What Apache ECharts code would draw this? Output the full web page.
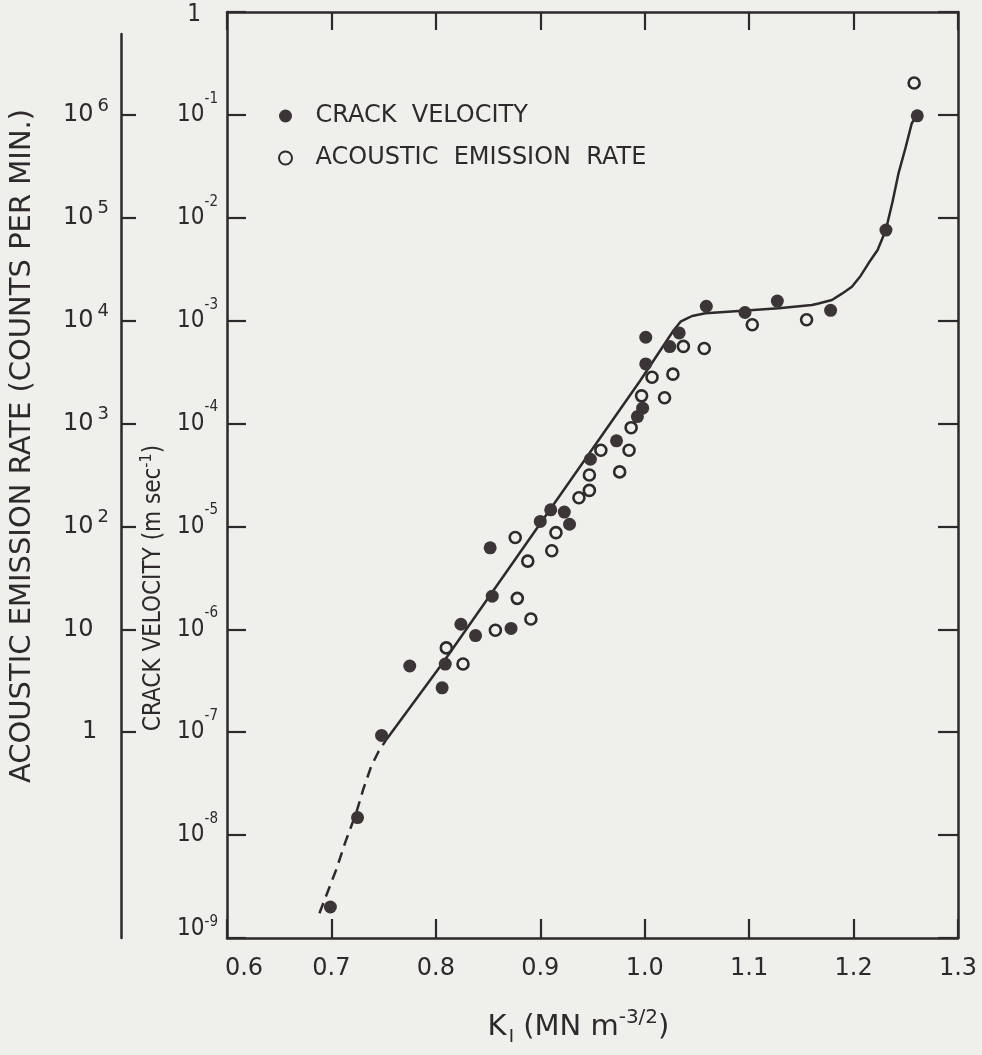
<!DOCTYPE html>
<html><head><meta charset="utf-8">
<script src="https://cdn.jsdelivr.net/npm/echarts@6/dist/echarts.min.js"></script>
<style>html,body{margin:0;padding:0;background:#efefeb}#c{width:982px;height:1055px}</style>
</head><body><div id="c"></div>
<script>
// ---- axis ticks ----
const kMin = 0.6, kMax = 1.3, kStep = 0.1;
const cvTickValues = [1e-9, 1e-8, 1e-7, 1e-6, 1e-5, 1e-4, 1e-3, 1e-2, 1e-1, 1];
const aeTickValues = [1, 10, 100, 1000, 1e4, 1e5, 1e6];

// ---- crack velocity data (m/s) ----
const cvK = [0.699, 0.725, 0.748, 0.775, 0.806, 0.809, 0.824, 0.838, 0.852, 0.854,
             0.872, 0.900, 0.910, 0.923, 0.928, 0.948, 0.973, 0.993, 0.998, 1.001,
             1.001, 1.024, 1.033, 1.059, 1.096, 1.127, 1.178, 1.231, 1.261];
const cvVal = [2.0e-9, 1.48e-8, 9.3e-8, 4.4e-7, 2.7e-7, 4.6e-7, 1.12e-6, 8.7e-7, 6.2e-6, 2.1e-6,
               1.02e-6, 1.12e-5, 1.45e-5, 1.38e-5, 1.05e-5, 4.5e-5, 6.8e-5, 1.17e-4, 1.41e-4, 3.8e-4,
               6.9e-4, 5.6e-4, 7.6e-4, 1.38e-3, 1.20e-3, 1.55e-3, 1.26e-3, 7.6e-3, 9.8e-2];

// ---- acoustic emission rate data (counts/min) ----
const aeK = [0.810, 0.826, 0.857, 0.876, 0.878, 0.888, 0.891, 0.911, 0.915, 0.937,
             0.947, 0.947, 0.958, 0.976, 0.985, 0.987, 0.997, 1.007, 1.019, 1.027,
             1.037, 1.057, 1.103, 1.155, 1.258];
const aeVal = [6.6, 4.6, 9.8, 78, 20, 46, 12.6, 58, 87, 190,
               224, 316, 550, 339, 550, 912, 1860, 2820, 1780, 3020,
               5620, 5370, 9120, 10200, 2.04e6];

// ---- fitted curve (crack velocity) ----
const fitDashK = [0.6885, 0.7045, 0.7134, 0.7236, 0.7306, 0.7380, 0.7449, 0.7523];
const fitDashV = [1.74e-9, 4.59e-9, 8.59e-9, 1.63e-8, 2.81e-8, 4.63e-8, 6.43e-8, 8.41e-8];
const fitSolidK = [0.7523, 0.8064, 0.9961, 1.0279, 1.0343, 1.0406, 1.0454, 1.0582, 1.0901,
                   1.1283, 1.1601, 1.1665, 1.1793, 1.1885, 1.1984, 1.2067, 1.2143, 1.2230,
                   1.2309, 1.2373, 1.2430, 1.2497, 1.2557, 1.2605];
const fitSolidV = [8.41e-8, 4.69e-7, 2.65e-4, 8.12e-4, 9.78e-4, 1.05e-3, 1.11e-3, 1.18e-3, 1.24e-3,
                   1.32e-3, 1.42e-3, 1.47e-3, 1.59e-3, 1.82e-3, 2.14e-3, 2.72e-3, 3.61e-3, 4.86e-3,
                   7.60e-3, 1.43e-2, 2.70e-2, 4.77e-2, 8.28e-2, 9.75e-2];

const zip = (a, b) => a.map((v, i) => [v, b[i]]);
const ink = '#2e292c';
const bg = '#efefeb';
const narrow = '"Liberation Sans Narrow","DejaVu Sans Condensed",sans-serif';
const cond = '"DejaVu Sans Condensed","DejaVu Sans",sans-serif';
const sans = '"DejaVu Sans",sans-serif';

const chart = echarts.init(document.getElementById('c'), null, {renderer: 'canvas'});

function cvLabel(v) {
  const e = Math.round(Math.log10(v));
  if (e === 0) return '{one|1}';
  if (e === -9) return '{b9|10}{s9|' + e + '}';
  return '{b|10}{s|' + e + '}';
}
function aeLabel(v) {
  const e = Math.round(Math.log10(v));
  if (e === 0) return '{one|1}';
  if (e === 1) return '{b|10}';
  return '{b|10}{s|' + e + '}';
}

const aeTopExp = 6 + (114.9 - 34) / 102.89;

chart.setOption({
  backgroundColor: bg,
  animation: false,
  grid: [
    {left: 227, right: 24, top: 12, bottom: 117},
    {left: 227, right: 24, top: 34, bottom: 117}
  ],
  legend: {
    data: ['CRACK VELOCITY', 'ACOUSTIC EMISSION RATE'],
    orient: 'vertical',
    left: 273, top: 97,
    itemWidth: 50, itemHeight: 13, itemGap: 14,
    formatter: n => n.replace(/ /g, '  '),
    textStyle: {color: ink, fontSize: 24, fontFamily: sans, lineHeight: 28}
  },
  xAxis: [
    {
      gridIndex: 0, type: 'value', position: 'bottom', min: kMin, max: kMax, interval: kStep,
      axisLine: {onZero: false, lineStyle: {color: ink, width: 2.5}},
      axisTick: {inside: true, length: 19, lineStyle: {color: ink, width: 2.2}},
      splitLine: {show: false},
      axisLabel: {
        margin: 19, color: ink, fontSize: 24, fontFamily: sans,
        formatter: v => Math.abs(v - 0.6) < 1e-6 ? '{f|0.6}' : v.toFixed(1),
        rich: {f: {fontSize: 24, fontFamily: sans, color: ink, padding: [0, 0, 0, 34]}}
      },
      name: '{t|K}{i|I}{t| (MN m}{p|-3/2}{t|)}',
      nameLocation: 'middle', nameGap: 70,
      nameTextStyle: {
        padding: [0, 28, 0, 0],
        rich: {
          t: {fontSize: 29, fontFamily: sans, color: ink, lineHeight: 38},
          i: {fontSize: 18, fontFamily: sans, color: ink, verticalAlign: 'bottom', lineHeight: 18, padding: [0, 0, 0, 2]},
          p: {fontSize: 20, fontFamily: sans, color: ink, verticalAlign: 'top', lineHeight: 20}
        }
      }
    },
    {
      gridIndex: 0, type: 'value', position: 'top', min: kMin, max: kMax, interval: kStep,
      axisLine: {onZero: false, lineStyle: {color: ink, width: 2.5}},
      axisTick: {inside: true, length: 18, lineStyle: {color: ink, width: 2.2}},
      axisLabel: {show: false}, splitLine: {show: false}
    },
    {gridIndex: 1, type: 'value', min: kMin, max: kMax, show: false}
  ],
  yAxis: [
    {
      gridIndex: 0, type: 'log', logBase: 10, position: 'left', min: 1e-9, max: 1,
      axisLine: {onZero: false, lineStyle: {color: ink, width: 2.5}},
      axisTick: {inside: true, length: 19, customValues: cvTickValues, lineStyle: {color: ink, width: 2.2}},
      splitLine: {show: false},
      axisLabel: {
        margin: 9, customValues: cvTickValues, formatter: cvLabel,
        rich: {
          b: {fontSize: 24, fontFamily: narrow, color: ink, lineHeight: 47},
          s: {fontSize: 15, fontFamily: narrow, color: ink, verticalAlign: 'top', lineHeight: 15},
          b9: {fontSize: 24, fontFamily: narrow, color: ink, lineHeight: 47, padding: [0, 0, 18, 0]},
          s9: {fontSize: 15, fontFamily: narrow, color: ink, verticalAlign: 'top', lineHeight: 15},
          one: {fontSize: 24, fontFamily: narrow, color: ink, padding: [6, 17, 0, 0]}
        }
      },
      name: '{t|CRACK VELOCITY (m sec}{p|-1}{t|)}',
      nameLocation: 'middle', nameGap: 55,
      nameTextStyle: {
        padding: [0, 226, 0, 0],
        rich: {
          t: {fontSize: 24, fontFamily: cond, color: ink, lineHeight: 30},
          p: {fontSize: 16, fontFamily: cond, color: ink, verticalAlign: 'top', lineHeight: 16}
        }
      }
    },
    {
      gridIndex: 0, type: 'log', logBase: 10, position: 'right', min: 1e-9, max: 1,
      axisLine: {onZero: false, lineStyle: {color: ink, width: 2.5}},
      axisTick: {inside: true, length: 20, customValues: cvTickValues, lineStyle: {color: ink, width: 2.2}},
      axisLabel: {show: false}, splitLine: {show: false}
    },
    {
      gridIndex: 1, type: 'log', logBase: 10, position: 'left', offset: 106,
      min: 0.01, max: Math.pow(10, aeTopExp),
      axisLine: {onZero: false, lineStyle: {color: ink, width: 2.5}},
      axisTick: {inside: true, length: 15, customValues: aeTickValues, lineStyle: {color: ink, width: 2.2}},
      splitLine: {show: false},
      axisLabel: {
        align: 'left', margin: 58, customValues: aeTickValues, formatter: aeLabel,
        rich: {
          b: {fontSize: 24, fontFamily: sans, color: ink, lineHeight: 36},
          s: {fontSize: 18, fontFamily: sans, color: ink, verticalAlign: 'top', lineHeight: 18, padding: [0, 0, 0, 4]},
          one: {fontSize: 24, fontFamily: sans, color: ink, padding: [0, 0, 0, 19]}
        }
      },
      name: 'ACOUSTIC EMISSION RATE (COUNTS PER MIN.)',
      nameLocation: 'middle', nameGap: 84,
      nameTextStyle: {color: ink, fontSize: 29, fontFamily: sans, padding: [0, 0, 0, 80]}
    }
  ],
  series: [
    {
      name: 'fit-dashed', type: 'line', xAxisIndex: 0, yAxisIndex: 0,
      data: zip(fitDashK, fitDashV), symbol: 'none', smooth: false, silent: true,
      lineStyle: {color: ink, width: 2.5, type: [11, 7]}, z: 2
    },
    {
      name: 'fit-solid', type: 'line', xAxisIndex: 0, yAxisIndex: 0,
      data: zip(fitSolidK, fitSolidV), symbol: 'none', smooth: false, silent: true,
      lineStyle: {color: ink, width: 2.5, join: 'round'}, z: 2
    },
    {
      name: 'CRACK VELOCITY', type: 'scatter', xAxisIndex: 0, yAxisIndex: 0,
      data: zip(cvK, cvVal), symbol: 'circle', symbolSize: 13,
      itemStyle: {color: '#3b3538', opacity: 1}, z: 4
    },
    {
      name: 'ACOUSTIC EMISSION RATE', type: 'scatter', xAxisIndex: 2, yAxisIndex: 2,
      data: zip(aeK, aeVal), symbol: 'circle', symbolSize: 11,
      itemStyle: {color: bg, borderColor: ink, borderWidth: 2.6, opacity: 1}, z: 3
    }
  ]
});
</script></body></html>
